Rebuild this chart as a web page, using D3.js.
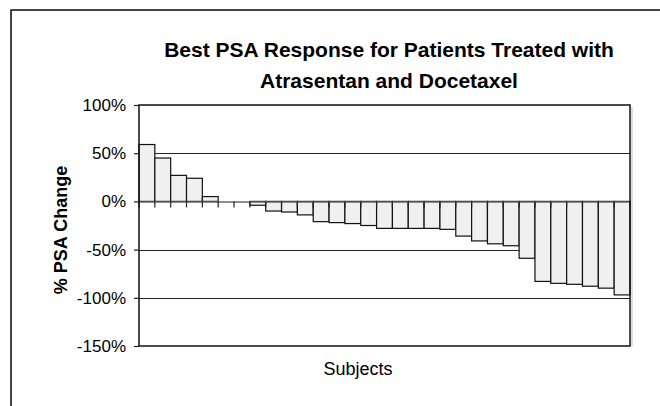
<!DOCTYPE html>
<html>
<head>
<meta charset="utf-8">
<script src="https://cdn.jsdelivr.net/npm/d3@7"></script>
<style>
  html, body { margin: 0; padding: 0; background: #fff; }
  svg { display: block; font-family: "Liberation Sans", Arial, sans-serif; }
</style>
</head>
<body>
<svg id="chart" width="660" height="406"></svg>
<script>
const titleLines = ["Best PSA Response for Patients Treated with", "Atrasentan and Docetaxel"];
const yAxisTitle = "% PSA Change";
const xAxisTitle = "Subjects";
const subjects = d3.range(1, 32).map(i => "S" + i);
const psaChange = [59, 45, 27, 24, 5, 0, 0, -4, -10, -11, -14, -21, -22, -23, -25,
  -28, -28, -28, -28, -29, -36, -41, -44, -46, -59, -83, -85, -86, -88, -90, -97];
const yTicks = [100, 50, 0, -50, -100, -150];
const gridValues = [50, -50, -100];

const svg = d3.select("#chart");
const m = { left: 139, right: 630, top: 105, bottom: 346 };

// outer frame (extends past viewport)
svg.append("rect").attr("x", 11.5).attr("y", 10.5).attr("width", 700).attr("height", 500)
  .attr("fill", "none").attr("stroke", "#c8c8c8").attr("stroke-width", 1);
svg.append("rect").attr("x", 11).attr("y", 10).attr("width", 700).attr("height", 500)
  .attr("fill", "none").attr("stroke", "#111").attr("stroke-width", 1.5);

const x = d3.scaleBand().domain(subjects).range([m.left, m.right]).padding(0);
const y = d3.scaleLinear().domain([-150, 100]).range([m.bottom, m.top]);

// title
const t = svg.append("text").attr("text-anchor", "middle").attr("font-weight", "bold")
  .attr("font-size", 21).attr("fill", "#000");
titleLines.forEach((s, i) => {
  t.append("tspan").attr("x", 389).attr("y", 57 + i * 31).text(s);
});

// gridlines
svg.append("g").selectAll("line").data(gridValues).join("line")
  .attr("x1", m.left).attr("x2", m.right)
  .attr("y1", d => Math.round(y(d)) + 0.5).attr("y2", d => Math.round(y(d)) + 0.5)
  .attr("stroke", "#222").attr("stroke-width", 1);

// plot border shadow
svg.append("line").attr("x1", m.right + 2).attr("x2", m.right + 2)
  .attr("y1", m.top + 2).attr("y2", m.bottom).attr("stroke", "#bbb").attr("stroke-width", 1);

// bars
svg.append("g").selectAll("rect").data(psaChange).join("rect")
  .attr("x", (d, i) => x(subjects[i]))
  .attr("width", x.bandwidth())
  .attr("y", d => y(Math.max(0, d)))
  .attr("height", d => Math.abs(y(d) - y(0)))
  .attr("fill", "#f0f0f0").attr("stroke", "#111").attr("stroke-width", 1.2);

// x axis at 0 with downward ticks at category boundaries
const xAxis = d3.axisBottom(x).tickSize(0).tickFormat("");
svg.append("g").attr("transform", `translate(0,${y(0)})`).call(xAxis)
  .call(g => g.select(".domain").attr("stroke", "#666").attr("stroke-width", 1.5));
svg.append("g").selectAll("line").data(d3.range(subjects.length + 1)).join("line")
  .attr("x1", i => m.left + i * x.bandwidth()).attr("x2", i => m.left + i * x.bandwidth())
  .attr("y1", y(0)).attr("y2", y(0) + 6)
  .attr("stroke", "#222").attr("stroke-width", 1.2);

// plot border
svg.append("rect").attr("x", m.left).attr("y", m.top)
  .attr("width", m.right - m.left).attr("height", m.bottom - m.top)
  .attr("fill", "none").attr("stroke", "#111").attr("stroke-width", 1.5);

// y axis
const yAxis = d3.axisLeft(y).tickValues(yTicks).tickSize(5).tickPadding(8)
  .tickFormat(d => d + "%");
svg.append("g").attr("transform", `translate(${m.left},0)`).call(yAxis)
  .call(g => g.select(".domain").remove())
  .call(g => g.selectAll(".tick line").attr("stroke", "#222").attr("stroke-width", 1.2))
  .call(g => g.selectAll(".tick text").attr("font-size", 17).attr("fill", "#000")
    .attr("font-family", "Liberation Sans, Arial, sans-serif"));

// axis titles
svg.append("text").attr("transform", "translate(67,230) rotate(-90)")
  .attr("text-anchor", "middle").attr("font-weight", "bold").attr("font-size", 18)
  .attr("fill", "#000").text(yAxisTitle);
svg.append("text").attr("x", 358).attr("y", 375).attr("text-anchor", "middle")
  .attr("font-size", 18).attr("fill", "#000").text(xAxisTitle);
</script>
</body>
</html>
